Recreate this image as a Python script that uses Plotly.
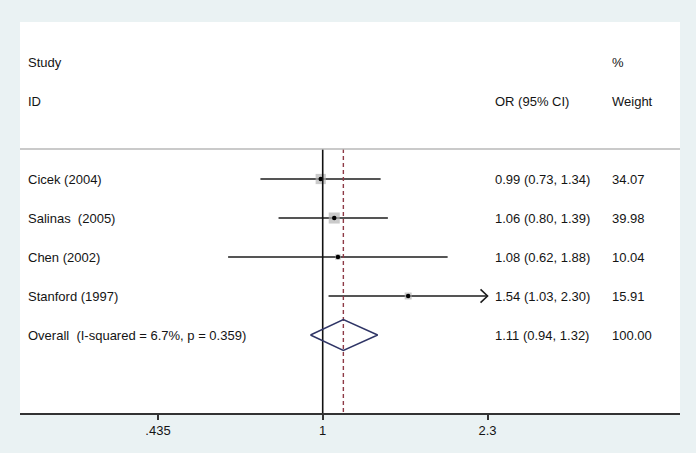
import math
import plotly.graph_objects as go

# ---- data ----
studies = ["Cicek (2004)", "Salinas\u00a0\u00a0(2005)", "Chen (2002)", "Stanford (1997)"]
or_est = [0.99, 1.06, 1.08, 1.54]
ci_lo = [0.73, 0.80, 0.62, 1.03]
ci_hi = [1.34, 1.39, 1.88, 2.30]
weights = [34.07, 39.98, 10.04, 15.91]
ci_text = ["0.99 (0.73, 1.34)", "1.06 (0.80, 1.39)", "1.08 (0.62, 1.88)", "1.54 (1.03, 2.30)"]
weight_text = ["34.07", "39.98", "10.04", "15.91"]

overall_label = "Overall\u00a0\u00a0(I-squared = 6.7%, p = 0.359)"
overall_est = 1.11
overall_lo = 0.94
overall_hi = 1.32
overall_ci_text = "1.11 (0.94, 1.32)"
overall_weight_text = "100.00"

tick_vals = [0.435, 1, 2.3]
tick_text = [".435", "1", "2.3"]

# ---- styling ----
FONT = "Liberation Sans, Arial, Helvetica, sans-serif"
FS = 13
TXT = "#141414"
rows = list(range(1, len(studies) + 1))
overall_row = len(studies) + 1
header_line_y = 0.23
y_bottom = 7.0
y_top = -3.026
px_per_ln = 197.9
px_per_row = 39.0
axis_max = max(tick_vals)
LINE = "#1c1c1c"

fig = go.Figure()

# CI lines
xs, ys = [], []
for r, lo, hi in zip(rows, ci_lo, ci_hi):
    xs += [lo, min(hi, axis_max), None]
    ys += [r, r, None]
fig.add_trace(go.Scatter(x=xs, y=ys, mode="lines",
                         line=dict(color=LINE, width=1.6),
                         hoverinfo="skip", showlegend=False))

# arrows for truncated CIs
ax_, ay_ = [], []
for r, hi in zip(rows, ci_hi):
    if hi >= axis_max:
        back = axis_max * math.exp(-7 / px_per_ln)
        dy = 6.7 / px_per_row
        ax_ += [back, axis_max, back, None]
        ay_ += [r - dy, r, r + dy, None]
if ax_:
    fig.add_trace(go.Scatter(x=ax_, y=ay_, mode="lines",
                             line=dict(color=LINE, width=1.6),
                             hoverinfo="skip", showlegend=False))

# weight squares
fig.add_trace(go.Scatter(x=or_est, y=rows, mode="markers",
                         marker=dict(symbol="square", color="#b3b3b3",
                                     size=[1.75 * math.sqrt(w) for w in weights],
                                     line=dict(width=0)),
                         hoverinfo="skip", showlegend=False))
# point estimate dots
fig.add_trace(go.Scatter(x=or_est, y=rows, mode="markers",
                         marker=dict(symbol="circle", color="#000000", size=4.5,
                                     line=dict(width=0)),
                         hoverinfo="skip", showlegend=False))

# null line at 1
fig.add_trace(go.Scatter(x=[1, 1], y=[header_line_y, y_bottom], mode="lines",
                         line=dict(color="#111111", width=1.6),
                         hoverinfo="skip", showlegend=False))
# pooled estimate dashed line
fig.add_trace(go.Scatter(x=[overall_est, overall_est], y=[header_line_y, y_bottom],
                         mode="lines",
                         line=dict(color="#8e3a46", width=1.4, dash="4px,3px"),
                         hoverinfo="skip", showlegend=False))

# overall diamond
hh = 15.5 / px_per_row
fig.add_trace(go.Scatter(
    x=[overall_lo, overall_est, overall_hi, overall_est, overall_lo],
    y=[overall_row, overall_row - hh, overall_row, overall_row + hh, overall_row],
    mode="lines", line=dict(color="#2f3566", width=1.4),
    hoverinfo="skip", showlegend=False))

# ---- text columns ----
col_label = (25.5 - 20) / 660
col_ci = (492.5 - 20) / 660
col_w = (609.5 - 20) / 660

annotations = []


def add_text(x, y, text):
    annotations.append(dict(x=x, y=y, xref="paper", yref="y", text=text,
                            showarrow=False, xanchor="left", yanchor="middle",
                            font=dict(family=FONT, size=FS, color=TXT)))


add_text(col_label, -2, "Study")
add_text(col_label, -1, "ID")
add_text(col_ci, -1, "OR (95% CI)")
add_text(col_w, -2, "%")
add_text(col_w, -1, "Weight")
for r, s, c, w in zip(rows, studies, ci_text, weight_text):
    add_text(col_label, r, s)
    add_text(col_ci, r, c)
    add_text(col_w, r, w)
add_text(col_label, overall_row, overall_label)
add_text(col_ci, overall_row, overall_ci_text)
add_text(col_w, overall_row, overall_weight_text)

fig.update_layout(
    width=696, height=453, autosize=False,
    margin=dict(l=20, r=16, t=22, b=40, pad=0),
    paper_bgcolor="#eaf2f3", plot_bgcolor="#ffffff",
    annotations=annotations,
    shapes=[dict(type="line", xref="paper", yref="y", x0=0, x1=1,
                 y0=header_line_y, y1=header_line_y,
                 line=dict(color="#b9b9b9", width=1.5))],
    xaxis=dict(type="log", range=[-0.6643, 0.7841],
               tickvals=tick_vals, ticktext=tick_text,
               showline=True, linecolor="#333333", linewidth=1.5,
               ticks="outside", ticklen=5, tickwidth=1.5, tickcolor="#333333",
               showgrid=False, zeroline=False,
               tickfont=dict(family=FONT, size=FS, color=TXT)),
    yaxis=dict(range=[y_bottom, y_top], visible=False, showgrid=False,
               zeroline=False),
    showlegend=False,
)

fig.write_html(
    "out.html",
    config={"displayModeBar": False},
    post_script="document.body.style.margin='0';document.body.style.background='#eaf2f3';",
)
